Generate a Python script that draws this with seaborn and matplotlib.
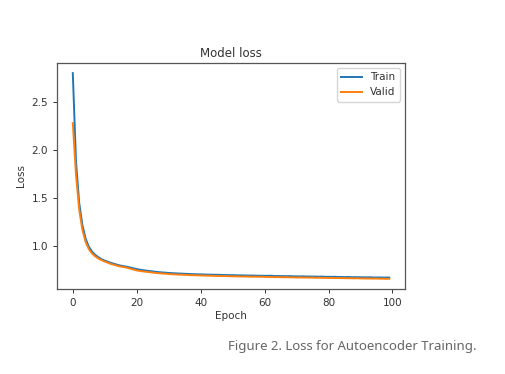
import pandas as pd
import matplotlib
matplotlib.use("Agg")
import matplotlib.pyplot as plt
import seaborn as sns

# loss values, one per epoch
epochs = list(range(100))
train_loss = [2.80, 1.88, 1.45, 1.22, 1.08, 0.995, 0.945, 0.91, 0.885, 0.865,
              0.85, 0.838, 0.826, 0.816, 0.806, 0.798, 0.792, 0.786, 0.778, 0.77,
              0.762, 0.756, 0.751, 0.746, 0.742, 0.738, 0.734, 0.73, 0.727, 0.725,
              0.722, 0.72, 0.718, 0.716, 0.715, 0.713, 0.712, 0.71, 0.709, 0.708,
              0.707, 0.706, 0.705, 0.704, 0.703, 0.703, 0.702, 0.701, 0.700, 0.699,
              0.699, 0.698, 0.697, 0.697, 0.696, 0.695, 0.695, 0.694, 0.693, 0.693,
              0.692, 0.692, 0.693, 0.690, 0.690, 0.689, 0.689, 0.688, 0.689, 0.687,
              0.687, 0.686, 0.687, 0.685, 0.685, 0.684, 0.684, 0.683, 0.684, 0.682,
              0.682, 0.681, 0.682, 0.680, 0.680, 0.679, 0.680, 0.678, 0.678, 0.678,
              0.677, 0.677, 0.676, 0.677, 0.675, 0.675, 0.675, 0.674, 0.674, 0.674]
valid_loss = [2.28, 1.74, 1.38, 1.17, 1.045, 0.97, 0.925, 0.895, 0.872, 0.855,
              0.84, 0.828, 0.815, 0.806, 0.796, 0.788, 0.783, 0.776, 0.766, 0.757,
              0.748, 0.743, 0.738, 0.734, 0.73, 0.726, 0.722, 0.719, 0.716, 0.714,
              0.711, 0.709, 0.707, 0.705, 0.704, 0.702, 0.701, 0.699, 0.698, 0.697,
              0.696, 0.695, 0.694, 0.693, 0.692, 0.691, 0.690, 0.690, 0.689, 0.688,
              0.687, 0.687, 0.686, 0.685, 0.685, 0.684, 0.683, 0.683, 0.682, 0.682,
              0.681, 0.680, 0.680, 0.679, 0.679, 0.678, 0.677, 0.678, 0.676, 0.676,
              0.675, 0.675, 0.674, 0.674, 0.673, 0.674, 0.672, 0.672, 0.671, 0.671,
              0.670, 0.670, 0.669, 0.670, 0.668, 0.668, 0.667, 0.667, 0.666, 0.667,
              0.665, 0.665, 0.664, 0.664, 0.663, 0.664, 0.662, 0.662, 0.661, 0.661]

df = pd.DataFrame({
    "Epoch": epochs * 2,
    "Loss": train_loss + valid_loss,
    "set": ["Train"] * 100 + ["Valid"] * 100,
})

fig = plt.figure(figsize=(5.06, 3.74), dpi=100)
ax = fig.add_axes([0.1126, 0.227, 0.688, 0.605])

sns.lineplot(data=df, x="Epoch", y="Loss", hue="set",
             palette=["#1f77b4", "#ff7f0e"], linewidth=1.4, ax=ax)

txt = "#333333"
ax.set_title("Model loss", fontsize=8.5, color=txt, pad=4)
ax.set_xlabel("Epoch", fontsize=7.5, color=txt, labelpad=2)
ax.set_ylabel("Loss", fontsize=7.5, color=txt, labelpad=4)
ax.set_xticks([0, 20, 40, 60, 80, 100])
ax.set_yticks([1.0, 1.5, 2.0, 2.5])
ax.tick_params(labelsize=7.5, colors=txt, length=3, width=0.7)
for s in ax.spines.values():
    s.set_color("#555555")
    s.set_linewidth(0.9)

leg = ax.legend(loc="upper right", fontsize=7.5, frameon=True, handlelength=2)
for t in leg.get_texts():
    t.set_color(txt)

fig.text(0.451, 0.074, "Figure 2. Loss for Autoencoder Training.",
         fontsize=9.5, color="#666666", family="Noto Sans", va="center")

fig.savefig("out.png", dpi=100)
